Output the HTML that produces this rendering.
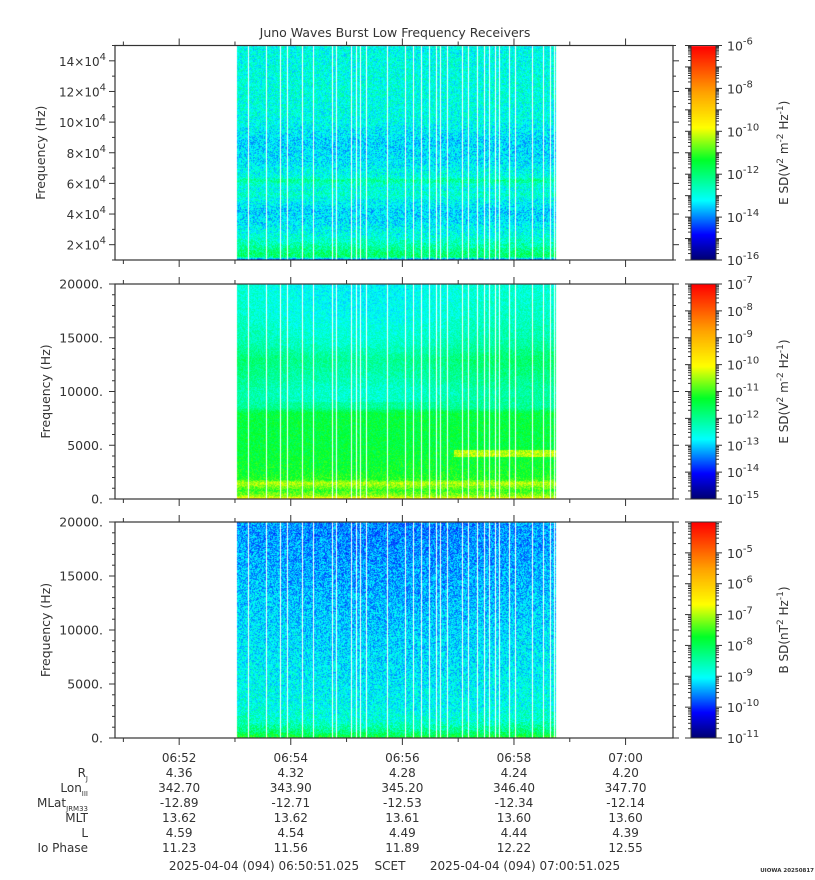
<!DOCTYPE html>
<html><head><meta charset="utf-8">
<style>
html,body{margin:0;padding:0;background:#fff;}
#wrap{position:relative;width:815px;height:880px;overflow:hidden;font-family:"Liberation Sans","DejaVu Sans",sans-serif;color:#333;}
canvas{position:absolute;left:0;top:0;}
svg{position:absolute;left:0;top:0;}
text{font-family:"DejaVu Sans","Liberation Sans",sans-serif;fill:#333;}
</style></head>
<body>
<div id="wrap">
<canvas id="cv" width="815" height="880"></canvas>
<svg id="sv" width="815" height="880"></svg>
</div>
<script>
// ---- data ----
const gapTimes = [143,162,177,185,201,213,233,238,254,259,263,270,292,312,320,329,338,345,349,357,373,380,389,397,402,409,413,424,430,448,460,468,472];
const dataStart = 131, dataEnd = 474; // seconds since 06:50:51
const timeTickLabels = ["06:52","06:54","06:56","06:58","07:00"];
const timeTickSecs = [69,189,309,429,549];
const ephemRj = ["4.36","4.32","4.28","4.24","4.20"];
const ephemLon = ["342.70","343.90","345.20","346.40","347.70"];
const ephemMlat = ["-12.89","-12.71","-12.53","-12.34","-12.14"];
const ephemMlt = ["13.62","13.62","13.61","13.60","13.60"];
const ephemL = ["4.59","4.54","4.49","4.44","4.39"];
const ephemIo = ["11.23","11.56","11.89","12.22","12.55"];
// spectral profiles: frequency (Hz) -> colormap level (0..1)
const p1Freq = [10000,11000,12000,16000,20000,25000,35000,42000,50000,53000,56000,60000,62000,64000,75000,88000,100000,120000,150000];
const p1Level = [0.13,0.27,0.41,0.39,0.35,0.31,0.27,0.26,0.30,0.33,0.30,0.33,0.38,0.31,0.27,0.26,0.30,0.31,0.30];
const p2Freq = [0,300,800,1500,1800,2500,5000,8000,8500,10000,11500,13000,14500,17000,20000];
const p2Level = [0.64,0.55,0.50,0.58,0.49,0.47,0.45,0.45,0.37,0.36,0.39,0.41,0.36,0.33,0.32];
const p3Freq = [0,200,600,1500,3000,6000,10000,14000,17000,20000];
const p3Level = [0.50,0.46,0.40,0.34,0.31,0.29,0.27,0.245,0.23,0.22];

// ---- layout ----
const X0=115, X1=673;
const panels=[
 {y0:45.5,y1:260,fmin:10000,fmax:150000,freq:p1Freq,lev:p1Level,noise:0.07,name:'e-high'},
 {y0:284,y1:499,fmin:0,fmax:20000,freq:p2Freq,lev:p2Level,noise:0.045,name:'e-low'},
 {y0:522,y1:738,fmin:0,fmax:20000,freq:p3Freq,lev:p3Level,noise:0.07,name:'b-low'}];
const xs=t=>X0+(X1-X0)*t/600;
const cstops=[[0,[0,0,110]],[0.12,[0,0,255]],[0.28,[0,255,255]],[0.47,[0,255,40]],[0.62,[255,255,0]],[0.78,[255,165,0]],[1,[255,0,0]]];
function cmap(v){v=Math.max(0,Math.min(1,v));for(let i=1;i<cstops.length;i++){if(v<=cstops[i][0]){const a=cstops[i-1],b=cstops[i];const f=(v-a[0])/(b[0]-a[0]);return a[1].map((c,k)=>Math.round(c+(b[1][k]-c)*f));}}return cstops[cstops.length-1][1];}
function interp(xa,ya,x){if(x<=xa[0])return ya[0];for(let i=1;i<xa.length;i++){if(x<=xa[i]){const f=(x-xa[i-1])/(xa[i]-xa[i-1]);return ya[i-1]+(ya[i]-ya[i-1])*f;}}return ya[ya.length-1];}
function hash(a,b){let h=(a*374761393+b*668265263)|0;h=(h^(h>>>13))*1274126177|0;h=h^(h>>>16);return ((h>>>0)%10000)/10000;}

const ctx=document.getElementById('cv').getContext('2d');
const xa=Math.round(xs(dataStart)), xb=Math.round(xs(dataEnd));
panels.forEach((p,pi)=>{
  const ya=Math.round(p.y0), yb=Math.round(p.y1);
  const img=ctx.createImageData(xb-xa,yb-ya);
  const gapX=gapTimes.map(t=>Math.round(xs(t)));
  for(let y=ya;y<yb;y++){
    const f=p.fmax-(y+0.5-p.y0)/(p.y1-p.y0)*(p.fmax-p.fmin);
    const base=interp(p.freq,p.lev,f);
    for(let x=xa;x<xb;x++){
      const i=((y-ya)*(xb-xa)+(x-xa))*4;
      let c;
      if(gapX.indexOf(x)>=0){c=[255,255,255];}
      else{
        let v=base+(hash(x+pi*1000,y)-0.5)*2*p.noise;
        const tf=(x-xa)/(xb-xa);
        if(pi===1&&f>9000) v-=0.04*Math.sin(Math.PI*Math.min(1,tf*1.3));
        if(pi===1&&f>3900&&f<4600&&tf>0.68) v+=0.12;
        if(pi===2) v-=0.02*Math.sin(Math.PI*tf);
        c=cmap(v);
      }
      img.data[i]=c[0];img.data[i+1]=c[1];img.data[i+2]=c[2];img.data[i+3]=255;
    }
  }
  ctx.putImageData(img,xa,ya);
});
// colorbars
const cbX0=691,cbX1=716;
panels.forEach(p=>{
  const ya=Math.round(p.y0),yb=Math.round(p.y1);
  for(let y=ya;y<yb;y++){const c=cmap((yb-y)/(yb-ya));ctx.fillStyle=`rgb(${c[0]},${c[1]},${c[2]})`;ctx.fillRect(cbX0,y,cbX1-cbX0,1);}
});

// ---- svg axes ----
const NS='http://www.w3.org/2000/svg';
const sv=document.getElementById('sv');
function el(tag,attrs,parent,txt){const e=document.createElementNS(NS,tag);for(const k in attrs)e.setAttribute(k,attrs[k]);if(txt!==undefined)e.textContent=txt;(parent||sv).appendChild(e);return e;}
function line(x1,y1,x2,y2,g){return el('line',{x1,y1,x2,y2,stroke:'#333','stroke-width':1},g);}
const title=el('text',{x:395,y:37,'text-anchor':'middle','font-size':12.5},sv,'Juno Waves Burst Low Frequency Receivers');



const cbInfo=[
 {min:-16,max:-6,labels:[-6,-8,-10,-12,-14,-16],title:['E SD(V','2',' m','-2',' Hz','-1',')']},
 {min:-15,max:-7,labels:[-7,-8,-9,-10,-11,-12,-13,-14,-15],title:['E SD(V','2',' m','-2',' Hz','-1',')']},
 {min:-11,max:-4,labels:[-5,-6,-7,-8,-9,-10,-11],title:['B SD(nT','2',' Hz','-1',')']}];

panels.forEach((p,pi)=>{
  const g=el('g',{});
  
  
  el('rect',{x:X0,y:p.y0,width:X1-X0,height:p.y1-p.y0,fill:'none',stroke:'#333','stroke-width':1.2},g);
  for(let m=0;m<=10;m++){const t=9+60*m;if(t>600)break;const x=xs(t);const L=(m%2===1)?7:4;
    line(x,p.y0,x,p.y0-L,g);line(x,p.y1,x,p.y1+L,g);}
  const yS=f=>p.y1-(f-p.fmin)/(p.fmax-p.fmin)*(p.y1-p.y0);
  if(pi===0){
    for(let f=10000;f<=150000;f+=10000){const y=yS(f);const maj=(f%20000===0);const L=maj?6:3;line(X0,y,X0-L,y,g);line(X1,y,X1+L,y,g);
      if(maj){const t=el('text',{x:106,y:y+5,'text-anchor':'end','font-size':12},g);
        
        el('tspan',{},t,(f/10000)+'\u00d710');el('tspan',{dy:-6,'font-size':10},t,'4');}}
  } else {
    for(let f=0;f<=20000;f+=1000){const y=yS(f);const maj=(f%5000===0);const L=maj?6:3;line(X0,y,X0-L,y,g);line(X1,y,X1+L,y,g);
      if(maj){const t=el('text',{x:103,y:y+4.5,'text-anchor':'end','font-size':12.5},g,f+'.');
        }}
  }
  const yt=el('text',{x:0,y:0,'text-anchor':'middle','font-size':12.5,transform:`translate(${pi===0?45:50},${(p.y0+p.y1)/2}) rotate(-90)`},g,'Frequency (Hz)');
  
  const c=cbInfo[pi];
  const cg=el('g',{});
  
  
  el('rect',{x:cbX0,y:p.y0,width:cbX1-cbX0,height:p.y1-p.y0,fill:'none',stroke:'#333','stroke-width':1},cg);
  const cy=v=>p.y1-(v-c.min)/(c.max-c.min)*(p.y1-p.y0);
  for(let d=c.min;d<=c.max;d++){const y=cy(d);line(cbX1,y,cbX1+6,y,cg);line(cbX0,y,cbX0-6,y,cg);
    if(d<c.max){for(let k=2;k<10;k++){const yy=cy(d+Math.log10(k));line(cbX1,yy,cbX1+3,yy,cg);line(cbX0,yy,cbX0-3,yy,cg);}}}
  c.labels.forEach(d=>{const y=cy(d);const t=el('text',{x:727,y:y+5,'font-size':12.5},cg);
    
    el('tspan',{},t,'10');el('tspan',{dy:-6,'font-size':10},t,String(d));});
  const ct=el('text',{x:0,y:0,'text-anchor':'middle','font-size':12,transform:`translate(788,${(p.y0+p.y1)/2}) rotate(-90)`},cg);
  
  c.title.forEach((s,i)=>{if(i%2===1)el('tspan',{dy:-5,'font-size':9},ct,s);else el('tspan',{dy:i>0?5:0},ct,s);});
});

const rows=[timeTickLabels,ephemRj,ephemLon,ephemMlat,ephemMlt,ephemL,ephemIo];
const rowY=[762,777,792,807,822,837,852];
rows.forEach((r,ri)=>{r.forEach((s,i)=>{const t=el('text',{x:xs(timeTickSecs[i]),y:rowY[ri],'text-anchor':'middle','font-size':12},sv,s);
  });});
const lab=[['R','J'],['Lon','III'],['MLat','JRM33'],['MLT',''],['L',''],['Io Phase','']];
lab.forEach((l,i)=>{const t=el('text',{x:88,y:rowY[i+1],'text-anchor':'end','font-size':12});
  
  el('tspan',{},t,l[0]);if(l[1])el('tspan',{dy:4,'font-size':7},t,l[1]);});
const f1=el('text',{x:264,y:870,'text-anchor':'middle','font-size':12},sv,'2025-04-04 (094) 06:50:51.025');

const f2=el('text',{x:390,y:870,'text-anchor':'middle','font-size':12},sv,'SCET');

const f3=el('text',{x:525,y:870,'text-anchor':'middle','font-size':12},sv,'2025-04-04 (094) 07:00:51.025');

const st=el('text',{x:814,y:872,'text-anchor':'end','font-size':5.5,'font-weight':'bold'},sv,'UIOWA 20250817');

</script>
</body></html>
